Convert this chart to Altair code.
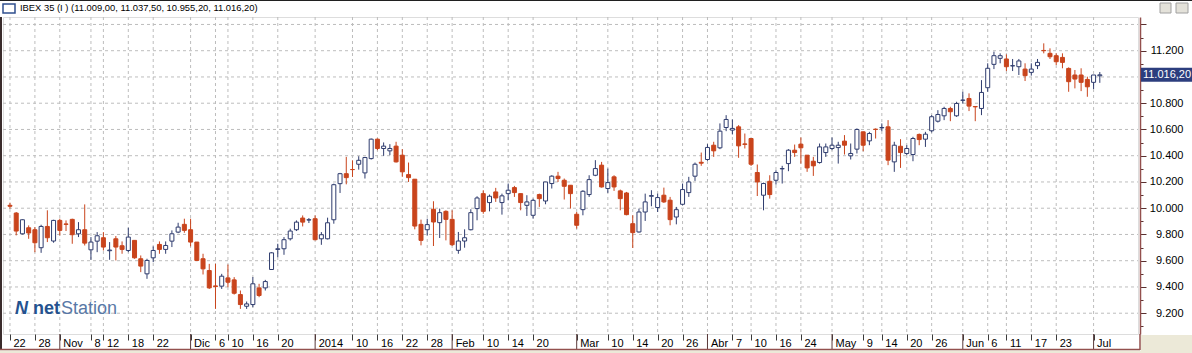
import altair as alt
import pandas as pd

# ---- data (IBEX 35 daily, 22 Oct 2013 .. 2 Jul 2014) ----
opens = [10022, 9963, 9805, 9851, 9836, 9699, 9861, 9750, 9907, 9880,
         9915, 9805, 9836, 9683, 9749, 9775, 9676, 9767, 9714, 9678,
         9755, 9615, 9500, 9622, 9724, 9686, 9749, 9818, 9877, 9836,
         9742, 9615, 9525, 9408, 9406, 9469, 9454, 9342, 9253, 9266,
         9393, 9393, 9533, 9686, 9691, 9767, 9836, 9925, 9910, 9920,
         9767, 9767, 9912, 10187, 10263, 10295, 10335, 10269, 10378, 10526,
         10455, 10437, 10473, 10404, 10256, 10221, 9877, 9836, 9992, 9890,
         9976, 9915, 9679, 9750, 9836, 9997, 10111, 10043, 10124, 10043,
         10111, 10157, 10111, 10022, 9946, 10104, 10055, 10188, 10244, 10213,
         10175, 9954, 9989, 10104, 10251, 10328, 10150, 10239, 10132, 10116,
         9882, 9819, 9971, 10091, 10005, 10099, 10061, 9933, 10030, 10119,
         10244, 10350, 10371, 10480, 10460, 10615, 10595, 10620, 10490, 10531,
         10272, 10099, 10205, 10213, 10300, 10340, 10442, 10488, 10404, 10358,
         10348, 10424, 10455, 10462, 10511, 10399, 10450, 10582, 10513, 10602,
         10612, 10620, 10353, 10472, 10417, 10409, 10562, 10526, 10590, 10663,
         10704, 10760, 10704, 10822, 10836, 10775, 10760, 10918, 11096, 11142,
         11137, 11084, 11078, 11060, 11035, 11086, 11202, 11180, 11162, 11149,
         11065, 11015, 11015, 10981, 10959, 11009.0]
highs = [10042, 9971, 9915, 9869, 9856, 9874, 9984, 9912, 9920, 9907,
         9920, 9894, 10029, 9780, 9818, 9818, 9742, 9788, 9747, 9851,
         9755, 9640, 9615, 9709, 9747, 9747, 9831, 9889, 9920, 9920,
         9742, 9653, 9576, 9576, 9500, 9571, 9475, 9373, 9289, 9475,
         9424, 9454, 9665, 9729, 9780, 9844, 9907, 9945, 9925, 9945,
         9818, 9928, 10187, 10269, 10391, 10365, 10396, 10391, 10531, 10531,
         10501, 10488, 10506, 10450, 10348, 10221, 9913, 9920, 10053, 9997,
         9984, 9984, 9819, 9839, 9992, 10091, 10137, 10104, 10155, 10111,
         10188, 10170, 10111, 10099, 10073, 10111, 10200, 10251, 10277, 10226,
         10175, 9971, 10137, 10251, 10366, 10353, 10302, 10251, 10142, 10124,
         9946, 9997, 10111, 10137, 10111, 10157, 10086, 10010, 10188, 10239,
         10348, 10424, 10488, 10506, 10646, 10709, 10676, 10633, 10569, 10531,
         10333, 10195, 10251, 10289, 10323, 10450, 10485, 10539, 10404, 10391,
         10493, 10493, 10539, 10506, 10557, 10493, 10608, 10582, 10582, 10608,
         10646, 10671, 10506, 10526, 10480, 10544, 10569, 10582, 10709, 10747,
         10773, 10773, 10811, 10887, 10875, 10778, 10976, 11104, 11193, 11180,
         11172, 11137, 11137, 11104, 11104, 11137, 11256, 11218, 11180, 11180,
         11073, 11053, 11066, 11002, 11015, 11037.5]
lows = [9996, 9793, 9800, 9767, 9665, 9660, 9742, 9737, 9793, 9826,
        9729, 9780, 9716, 9607, 9665, 9678, 9607, 9602, 9653, 9665,
        9615, 9513, 9462, 9589, 9653, 9653, 9704, 9810, 9813, 9709,
        9597, 9495, 9385, 9233, 9385, 9398, 9342, 9233, 9233, 9246,
        9322, 9373, 9530, 9627, 9645, 9754, 9826, 9861, 9887, 9755,
        9721, 9762, 9882, 10116, 10182, 10238, 10294, 10226, 10371, 10442,
        10399, 10404, 10348, 10239, 10200, 9839, 9717, 9793, 9712, 9773,
        9755, 9712, 9653, 9699, 9831, 9908, 9958, 9976, 10048, 9951,
        10060, 10086, 9984, 9941, 9920, 10010, 10030, 10150, 10200, 10066,
        9997, 9844, 9946, 10086, 10244, 10157, 10117, 10132, 9984, 9946,
        9697, 9814, 9903, 10015, 9971, 10040, 9870, 9877, 10022, 10086,
        10208, 10323, 10361, 10391, 10450, 10587, 10562, 10384, 10455, 10322,
        10093, 9984, 10073, 10180, 10188, 10282, 10391, 10340, 10277, 10246,
        10340, 10391, 10442, 10340, 10409, 10371, 10417, 10434, 10480, 10531,
        10587, 10328, 10277, 10307, 10404, 10358, 10480, 10467, 10577, 10653,
        10671, 10663, 10696, 10798, 10740, 10663, 10709, 10887, 11060, 11104,
        11045, 11045, 11015, 10969, 11010, 11060, 11180, 11137, 11091, 11066,
        10887, 10913, 10892, 10849, 10908, 10955.2]
closes = [10015, 9826, 9912, 9811, 9737, 9861, 9775, 9907, 9831, 9877,
          9798, 9836, 9734, 9742, 9790, 9704, 9681, 9704, 9686, 9780,
          9622, 9559, 9602, 9678, 9686, 9716, 9805, 9856, 9831, 9742,
          9602, 9538, 9393, 9403, 9482, 9436, 9352, 9266, 9271, 9424,
          9335, 9441, 9660, 9691, 9760, 9826, 9894, 9894, 9912, 9760,
          9798, 9889, 10179, 10263, 10233, 10294, 10365, 10386, 10526, 10455,
          10473, 10455, 10353, 10277, 10233, 9864, 9755, 9875, 9895, 9966,
          9915, 9722, 9750, 9775, 9966, 10078, 9976, 10091, 10078, 10094,
          10137, 10119, 10043, 10048, 10060, 10073, 10200, 10244, 10226, 10167,
          10111, 9870, 10129, 10218, 10302, 10162, 10195, 10162, 10073, 9951,
          9814, 9971, 10048, 10096, 10081, 10048, 9913, 9989, 10142, 10200,
          10335, 10343, 10463, 10437, 10587, 10676, 10608, 10475, 10486, 10335,
          10200, 10188, 10104, 10272, 10302, 10442, 10424, 10460, 10307, 10323,
          10467, 10467, 10480, 10480, 10480, 10417, 10600, 10480, 10569, 10600,
          10615, 10366, 10480, 10424, 10455, 10531, 10523, 10564, 10697, 10714,
          10760, 10735, 10798, 10824, 10778, 10772, 10882, 11066, 11162, 11162,
          11078, 11086, 11122, 11010, 11060, 11111, 11200, 11154, 11116, 11111,
          10964, 10984, 10959, 10925, 11015, 11016.2]

# x-axis tick positions (trading-day index) and their labels
tick_idx = [0, 4, 8, 13, 15, 19, 23, 29, 33, 35, 39, 43, 49, 55, 59, 63, 67,
            71, 76, 80, 84, 91, 96, 100, 104, 108, 112, 116, 119, 123, 127,
            132, 137, 140, 144, 148, 153, 157, 160, 164, 168, 174]
tick_lab = ["22", "28", "Nov", "8", "12", "18", "22", "Dic", "6", "10", "16", "20",
            "2014", "10", "16", "22", "28", "Feb", "10", "14", "20", "Mar", "10",
            "14", "20", "26", "Abr", "7", "10", "16", "24", "May", "9", "14",
            "20", "26", "Jun", "6", "11", "17", "23", "Jul"]
month_idx = [8, 29, 49, 71, 91, 112, 132, 153, 174]
grid_levels = [9200, 9400, 9600, 9800, 10000, 10200, 10400, 10600, 10800, 11000, 11200, 11400]
y_ticks = [9100, 9200, 9300, 9400, 9500, 9600, 9700, 9800, 9900, 10000, 10100, 10200,
           10300, 10400, 10500, 10600, 10700, 10800, 10900, 11000, 11100, 11200,
           11300, 11400]
title_text = "IBEX 35 (I ) (11.009,00, 11.037,50, 10.955,20, 11.016,20)"
last_label = "11.016,20"

# ---- styling ----
W, H = 1135, 317
RED = "#C9441C"
NAVY = "#2F3C6E"
MAROON = "#93504E"
GRID = "#BDBDBD"
BAND = "#2C3E7E"
FONT = "Liberation Sans"

df = pd.DataFrame({"i": list(range(len(opens))), "open": opens, "high": highs,
                   "low": lows, "close": closes})
df["dir"] = ["up" if c >= o else "down" for o, c in zip(opens, closes)]

xscale = alt.Scale(domain=[-0.318, 180.33], nice=False, zero=False)
yscale = alt.Scale(domain=[9041.6, 11456.8], nice=False, zero=False)

lab_expr = "[" + ",".join("'" + s + "'" for s in tick_lab) + "][indexof([" + \
    ",".join(str(v) for v in tick_idx) + "], datum.value)]"

xaxis = alt.Axis(values=tick_idx, labelExpr=lab_expr, title=None, grid=False,
                 domain=False, tickSize=6, tickColor="#3a3a3a", labelAlign="left",
                 labelBaseline="top", labelPadding=-3, labelOffset=3,
                 labelFont=FONT, labelFontSize=11, labelColor="black",
                 labelOverlap=False, labelFlush=False, labelBound=False)
yaxis = alt.Axis(orient="right", values=y_ticks, title=None, grid=False,
                 labelExpr="datum.value % 200 == 0 && datum.value <= 11200 && "
                           "datum.value != 11000 ? "
                           "replace(format(datum.value, ','), ',', '.') : ''",
                 domainColor=MAROON, domainWidth=1.5, tickColor="#5a3030",
                 tickSize={"condition": {"test": "datum.value % 200 == 0", "value": 6},
                           "value": 3},
                 offset=2, labelAlign="right", labelPadding=37,
                 labelFont=FONT, labelFontSize=11, labelColor="black",
                 labelOverlap=False, labelFlush=False, labelBound=False)


def xe(field):
    return alt.X(field + ":Q", scale=xscale, axis=xaxis)


def ye(field):
    return alt.Y(field + ":Q", scale=yscale, axis=yaxis)


hgrid = alt.Chart(pd.DataFrame({"level": grid_levels})).mark_rule(
    color=GRID, strokeDash=[3, 3], strokeWidth=1).encode(
    y=ye("level"), x=alt.value(0), x2=alt.value(W))

vgrid = alt.Chart(pd.DataFrame({"i": tick_idx})).mark_rule(
    color=GRID, strokeDash=[3, 3], strokeWidth=1).encode(
    x=xe("i"), y=alt.value(0), y2=alt.value(H))

msep = alt.Chart(pd.DataFrame({"i": month_idx})).mark_rule(
    color="#5a3a3a", strokeWidth=1).encode(
    x=xe("i"), y=alt.value(H), y2=alt.value(H + 15))

dir_dom = ["up", "down"]
wicks = alt.Chart(df).mark_rule(strokeWidth=1).encode(
    x=xe("i"), y=ye("low"), y2="high",
    color=alt.Color("dir:N", scale=alt.Scale(domain=dir_dom, range=[NAVY, RED]),
                    legend=None))

bodies = alt.Chart(df).mark_bar(size=4, strokeWidth=1).encode(
    x=xe("i"), y=ye("open"), y2="close",
    fill=alt.Fill("dir:N", scale=alt.Scale(domain=dir_dom, range=["white", RED]),
                  legend=None),
    stroke=alt.Stroke("dir:N", scale=alt.Scale(domain=dir_dom, range=[NAVY, RED]),
                      legend=None))

last_df = pd.DataFrame({"close": [closes[-1]], "label": [last_label]})
band = alt.Chart(last_df).mark_rule(color=BAND, strokeWidth=14, strokeCap="butt").encode(
    y=ye("close"), x=alt.value(W + 3), x2=alt.value(W + 54))
band_text = alt.Chart(last_df).mark_text(color="white", font=FONT, fontSize=11,
                                         align="center", baseline="middle").encode(
    y=ye("close"), x=alt.value(W + 29), text="label:N")

logo_df = pd.DataFrame({"a": ["N"], "b": ["net"], "c": ["Station"], "t": [title_text]})
logo_icon = alt.Chart(logo_df).mark_text(font=FONT, fontSize=18, fontWeight="bold",
                                         fontStyle="italic", color="#24528F",
                                         align="left", baseline="alphabetic").encode(
    x=alt.value(12), y=alt.value(297), text="a:N")
logo_net = alt.Chart(logo_df).mark_text(font=FONT, fontSize=18, fontWeight="bold",
                                        color="#24528F", align="left",
                                        baseline="alphabetic").encode(
    x=alt.value(30), y=alt.value(297), text="b:N")
logo_station = alt.Chart(logo_df).mark_text(font=FONT, fontSize=18, color="#5878A6",
                                            align="left", baseline="alphabetic").encode(
    x=alt.value(58), y=alt.value(297), text="c:N")
title_mark = alt.Chart(logo_df).mark_text(font=FONT, fontSize=9.4, color="black",
                                          align="left", baseline="alphabetic").encode(
    x=alt.value(17), y=alt.value(-6), text="t:N")

# window decorations
deco_df = pd.DataFrame({"k": [0]})
top_line = alt.Chart(deco_df).mark_rule(color="#202020", strokeWidth=1).encode(
    x=alt.value(-3), x2=alt.value(W + 54), y=alt.value(-16.5))
left_line = alt.Chart(deco_df).mark_rule(color="#3a2c2c", strokeWidth=2).encode(
    x=alt.value(-2), y=alt.value(0), y2=alt.value(H + 16))
bottom_line = alt.Chart(deco_df).mark_rule(color=MAROON, strokeWidth=1.5).encode(
    x=alt.value(-3), x2=alt.value(W + 2), y=alt.value(H + 15.5))
right_sep = alt.Chart(deco_df).mark_rule(color=MAROON, strokeWidth=1.5).encode(
    x=alt.value(W + 2), y=alt.value(H), y2=alt.value(H + 16))
corner = alt.Chart(deco_df).mark_rect(color="#ECE9D8").encode(
    x=alt.value(W + 3), x2=alt.value(W + 54), y=alt.value(H + 1), y2=alt.value(H + 19))
bottom_strip = alt.Chart(deco_df).mark_rect(color="#ECE9D8").encode(
    x=alt.value(-3), x2=alt.value(W + 54), y=alt.value(H + 16.5), y2=alt.value(H + 19))
win_icon = alt.Chart(deco_df).mark_rect(fill="white", stroke="#2F4F8F", strokeWidth=1.5).encode(
    x=alt.value(0), x2=alt.value(12), y=alt.value(-13), y2=alt.value(-4))
btn1 = alt.Chart(deco_df).mark_rect(fill="#E4E2DA", stroke="#A0A0A0", strokeWidth=1).encode(
    x=alt.value(W + 22), x2=alt.value(W + 33), y=alt.value(-14), y2=alt.value(-4))
btn2 = alt.Chart(deco_df).mark_rect(fill="#E4E2DA", stroke="#A0A0A0", strokeWidth=1).encode(
    x=alt.value(W + 38), x2=alt.value(W + 50), y=alt.value(-14), y2=alt.value(-4))

chart = alt.layer(
    hgrid, vgrid, msep, wicks, bodies, band, band_text,
    logo_icon, logo_net, logo_station, title_mark,
    top_line, left_line, bottom_strip, bottom_line, right_sep, corner,
    win_icon, btn1, btn2
).properties(
    width=W, height=H,
    autosize="none",
    padding={"left": 3, "top": 17, "right": 54, "bottom": 19},
).configure_view(
    stroke=MAROON, strokeWidth=1.5
).configure(background="white")

chart.save("out.html", embed_options={"renderer": "svg", "actions": False})
